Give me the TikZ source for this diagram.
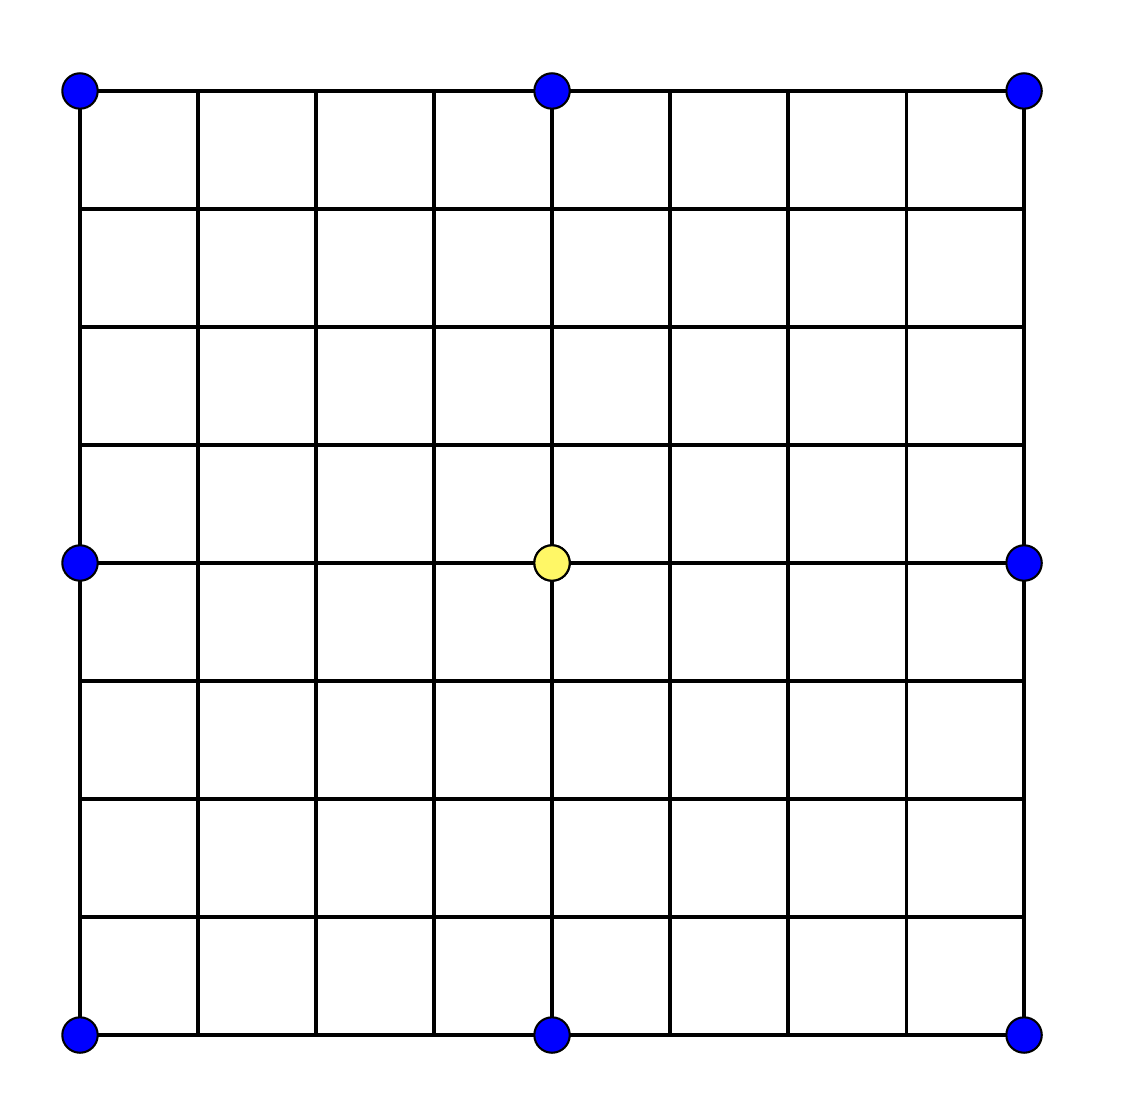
\documentclass[tikz,border=0pt]{standalone}
\usepackage{tikz}

\begin{document}
\begin{tikzpicture}[x=1cm,y=1cm]
	\tikzset{corner node/.style=
		{circle, draw, line width=0.5pt, fill=blue, inner sep=0pt, minimum size=0.3cm},
		centre node/.style={corner node, fill=yellow!60}}
	\useasboundingbox (-0.678,-0.483) rectangle (8.881,8.771);
	\draw[line width=0.75pt] (0,0) grid (8,8);
	\foreach \x in {0,4,8}
	\foreach \y in {0,4,8}
	{\node[corner node] (n\x\y) at (\x,\y) {};}
	\node[centre node] (n44) at (4,4) {};
\end{tikzpicture}
\end{document}
